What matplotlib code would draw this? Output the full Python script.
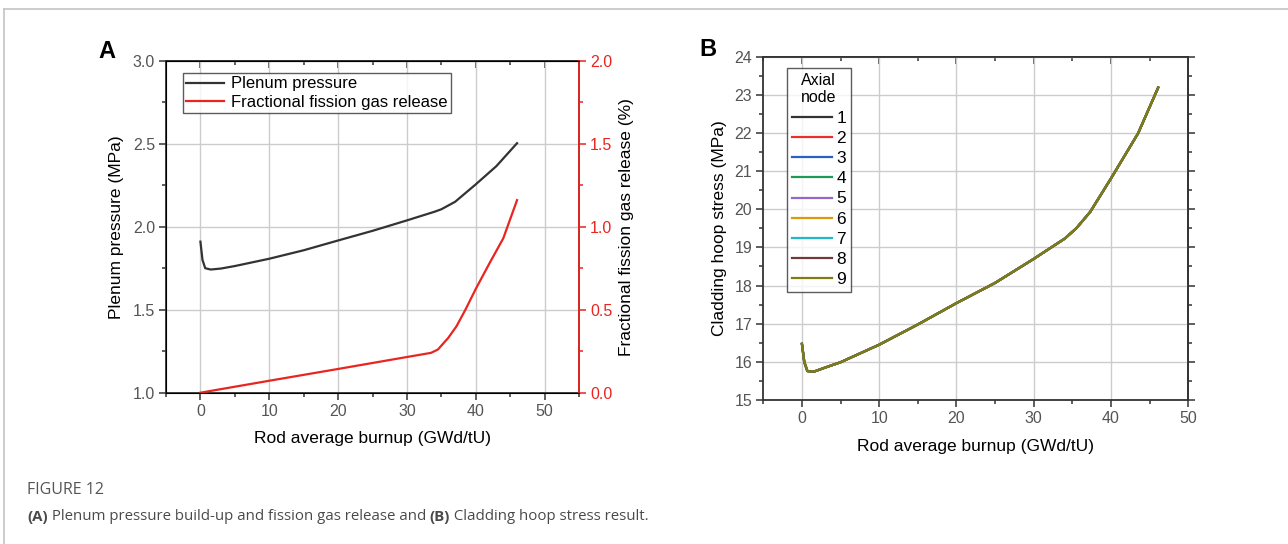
import matplotlib
matplotlib.use("Agg")
import matplotlib.pyplot as plt
from matplotlib.lines import Line2D
from matplotlib.offsetbox import TextArea, HPacker, AnchoredOffsetbox

plt.rcParams['font.family'] = ['Liberation Sans', 'DejaVu Sans']

# Panel A: plenum pressure and fission gas release vs burnup
burnup_a = [0, 0.3, 0.7, 1.5, 3, 5, 10, 15, 20, 25, 30, 34, 35, 37, 40, 43, 46]
plenum_p = [1.91, 1.80, 1.75, 1.742, 1.748, 1.763, 1.807, 1.858, 1.917, 1.975,
            2.038, 2.09, 2.105, 2.15, 2.255, 2.365, 2.503]

burnup_fgr = [0, 5, 10, 20, 30, 33.5, 34.5, 36, 37.2, 38.5, 40, 42, 44, 46]
fgr = [0.0, 0.036, 0.072, 0.143, 0.215, 0.24, 0.26, 0.33, 0.40, 0.50, 0.625,
       0.78, 0.93, 1.16]

# Panel B: cladding hoop stress per axial node (all nodes coincide)
burnup_b = [0, 0.3, 0.7, 1.5, 3, 5, 10, 15, 20, 25, 30, 34, 35.5, 37.3, 40,
            43.5, 46.1]
hoop_stress = [16.47, 16.0, 15.76, 15.74, 15.85, 15.99, 16.45, 16.98, 17.54,
               18.07, 18.70, 19.23, 19.5, 19.93, 20.81, 21.99, 23.19]
nodes = ['1', '2', '3', '4', '5', '6', '7', '8', '9']
node_colors = ['#333333', '#e8302a', '#2a62c4', '#1f9a55', '#9468c8',
               '#d99a10', '#22b8c8', '#6e3b3b', '#7d7d14']

SPINE = '#333333'
GRID = '#cccccc'
TICKLBL = '#555555'
TICKSIZE = 11.5
LABELSIZE = 12.5

fig = plt.figure(figsize=(12.88, 5.44), dpi=100)

# light page frame
fig.add_artist(Line2D([4/1288, 4/1288], [0, 1 - 9/544], color='#c4c4c4', lw=1.2))
fig.add_artist(Line2D([4/1288, 1], [1 - 9/544, 1 - 9/544], color='#c4c4c4', lw=1.2))


def style_axes(ax):
    for s in ax.spines.values():
        s.set_color(SPINE)
        s.set_linewidth(1.3)
    ax.grid(True, which='major', color=GRID, lw=1.0)
    ax.set_axisbelow(True)
    ax.tick_params(which='both', direction='out', color=SPINE, labelcolor=TICKLBL,
                   labelsize=TICKSIZE, width=1.1, pad=3)
    ax.tick_params(which='major', length=5)
    ax.tick_params(which='minor', length=3)
    top = ax.secondary_xaxis('top')
    top.set_xticks(ax.get_xticks())
    top.xaxis.set_minor_locator(matplotlib.ticker.MultipleLocator(5))
    top.tick_params(which='both', direction='in', labeltop=False, color=SPINE, width=1.1)
    top.tick_params(which='major', length=5)
    top.tick_params(which='minor', length=3)
    top.spines['top'].set_color(SPINE)
    top.spines['top'].set_linewidth(1.3)


# ---- panel A ----
axa = fig.add_axes([166/1288, 1 - 392.7/544, 413/1288, 332/544])
axa.plot(burnup_a, plenum_p, color='#333333', lw=1.6, label='Plenum pressure')
axa.set_xlim(-5, 55)
axa.set_ylim(1.0, 3.0)
axa.set_xticks([0, 10, 20, 30, 40, 50])
axa.set_yticks([1.0, 1.5, 2.0, 2.5, 3.0])
axa.xaxis.set_minor_locator(matplotlib.ticker.MultipleLocator(5))
axa.yaxis.set_minor_locator(matplotlib.ticker.MultipleLocator(0.25))
axa.yaxis.set_major_formatter(matplotlib.ticker.FormatStrFormatter('%.1f'))
style_axes(axa)
axa.set_xlabel('Rod average burnup (GWd/tU)', fontsize=LABELSIZE, labelpad=9)
axa.set_ylabel('Plenum pressure (MPa)', fontsize=LABELSIZE, labelpad=6)

axr = axa.twinx()
axr.plot(burnup_fgr, fgr, color='#e8251f', lw=1.6, label='Fractional fission gas release')
axr.set_ylim(0, 2.0)
axr.set_yticks([0.0, 0.5, 1.0, 1.5, 2.0])
axr.yaxis.set_minor_locator(matplotlib.ticker.MultipleLocator(0.25))
axr.yaxis.set_major_formatter(matplotlib.ticker.FormatStrFormatter('%.1f'))
axr.spines['right'].set_color('#e8251f')
axr.spines['right'].set_linewidth(1.3)
axr.tick_params(axis='y', which='both', direction='out', color='#e8251f',
                labelcolor='#e8251f', labelsize=TICKSIZE, width=1.1, pad=3)
axr.tick_params(axis='y', which='major', length=5)
axr.tick_params(axis='y', which='minor', length=3)
axr.set_ylabel('Fractional fission gas release (%)', fontsize=LABELSIZE, labelpad=5)

handles = axa.get_lines() + axr.get_lines()
leg_a = axr.legend(handles, [h.get_label() for h in handles],
                   loc='upper left', bbox_to_anchor=(0.04, 0.963), fontsize=12,
                   frameon=True, fancybox=False, edgecolor='#333333',
                   handlelength=2.3, handletextpad=0.4, borderpad=0.2,
                   labelspacing=0.2, borderaxespad=0, handleheight=0.6)
leg_a.get_frame().set_linewidth(1.0)

# ---- panel B ----
axb = fig.add_axes([763.3/1288, 1 - 400/544, 425/1288, 343.3/544])
for node, c in zip(nodes, node_colors):
    axb.plot(burnup_b, hoop_stress, color=c, lw=1.6, label=node)
axb.set_xlim(-5, 50)
axb.set_ylim(15, 24)
axb.set_xticks([0, 10, 20, 30, 40, 50])
axb.set_yticks(range(15, 25))
axb.xaxis.set_minor_locator(matplotlib.ticker.MultipleLocator(5))
axb.yaxis.set_minor_locator(matplotlib.ticker.MultipleLocator(0.5))
style_axes(axb)
right = axb.secondary_yaxis('right')
right.set_yticks(range(15, 25))
right.yaxis.set_minor_locator(matplotlib.ticker.MultipleLocator(0.5))
right.tick_params(which='both', direction='out', labelright=False, color=SPINE, width=1.1)
right.tick_params(which='major', length=5)
right.tick_params(which='minor', length=3)
right.spines['right'].set_color(SPINE)
right.spines['right'].set_linewidth(1.3)
axb.set_xlabel('Rod average burnup (GWd/tU)', fontsize=LABELSIZE, labelpad=9)
axb.set_ylabel('Cladding hoop stress (MPa)', fontsize=LABELSIZE, labelpad=5)

leg_b = axb.legend(title='Axial\nnode', loc='upper left', bbox_to_anchor=(0.055, 0.968),
                   fontsize=12.5, title_fontsize=11.5, frameon=True, fancybox=False,
                   edgecolor='#333333', handlelength=2.3, handletextpad=0.25,
                   borderpad=0.3, labelspacing=0.3, borderaxespad=0,
                   handleheight=0.6)
leg_b.get_frame().set_linewidth(1.0)

# panel letters
fig.text(107/1288, 1 - 52/544, 'A', fontsize=17, fontweight='bold', ha='center', va='center')
fig.text(708/1288, 1 - 50/544, 'B', fontsize=17, fontweight='bold', ha='center', va='center')

# caption
cap_font = ['Open Sans', 'DejaVu Sans']
fig.text(27/1288, 1 - 490/544, 'FIGURE 12', fontsize=11.5, color='#555555',
         family=cap_font, va='center', ha='left')
parts = [('(A)', 'bold'), (' Plenum pressure build-up and fission gas release and ', 'normal'),
         ('(B)', 'bold'), (' Cladding hoop stress result.', 'normal')]
areas = [TextArea(t, textprops=dict(fontsize=10.8, color='#4a4a4a', family=cap_font,
                                    fontweight=w)) for t, w in parts]
box = HPacker(children=areas, pad=0, sep=0, align='baseline')
anch = AnchoredOffsetbox(loc='center left', child=box, pad=0, frameon=False,
                         bbox_to_anchor=(27/1288, 1 - 517/544),
                         bbox_transform=fig.transFigure, borderpad=0)
fig.add_artist(anch)

fig.savefig('out.png', dpi=100)
